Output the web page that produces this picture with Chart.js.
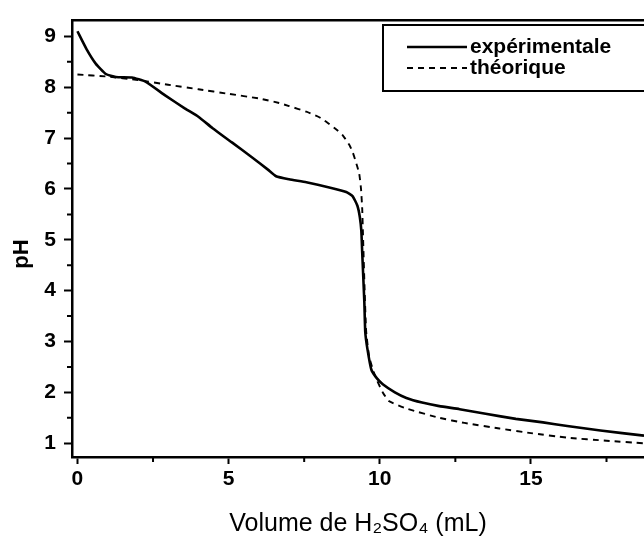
<!DOCTYPE html>
<html>
<head>
<meta charset="utf-8">
<script src="https://cdn.jsdelivr.net/npm/chart.js@4/dist/chart.umd.min.js"></script>
<style>
  html, body { margin: 0; padding: 0; background: #fff; overflow: hidden; }
  #wrap { width: 644px; height: 539px; position: relative; }
</style>
</head>
<body>
<div id="wrap"><canvas id="c" width="644" height="539"></canvas></div>
<script>
// ---- data ----
const seriesLabels = ["expérimentale", "théorique"];

const expVolume = [0, 0.3, 0.61, 0.94, 1.27, 1.8, 2.25, 2.9, 3.56, 4.0, 4.46, 5.12, 5.78, 6.3, 6.57, 7.0, 7.57, 8.33, 8.89, 9.1, 9.26, 9.34, 9.39, 9.42, 9.49, 9.52, 9.59, 9.72, 9.9, 10.1, 10.5, 10.88, 11.4, 11.97, 12.64, 13.5, 14.5, 15.4, 16.2, 17.3, 18.74];
const expPH     = [9.1, 8.75, 8.46, 8.26, 8.2, 8.19, 8.11, 7.84, 7.58, 7.42, 7.2, 6.91, 6.62, 6.38, 6.25, 6.19, 6.13, 6.03, 5.94, 5.86, 5.67, 5.45, 5.18, 4.74, 3.77, 3.19, 2.86, 2.45, 2.28, 2.16, 2.0, 1.89, 1.8, 1.73, 1.67, 1.58, 1.48, 1.41, 1.34, 1.25, 1.15];

const theoVolume = [0, 1, 2, 3, 4, 5, 6, 6.67, 7.0, 7.57, 8.0, 8.23, 8.5, 8.77, 9.0, 9.1, 9.2, 9.32, 9.38, 9.42, 9.45, 9.5, 9.55, 9.65, 9.8, 9.92, 10.1, 10.3, 10.9, 11.97, 12.8, 13.96, 15.0, 16.2, 17.5, 18.74];
const theoPH     = [8.25, 8.21, 8.14, 8.05, 7.96, 7.87, 7.78, 7.69, 7.63, 7.52, 7.41, 7.32, 7.2, 7.06, 6.86, 6.73, 6.55, 6.3, 6.0, 5.6, 5.0, 4.0, 3.2, 2.7, 2.4, 2.22, 2.0, 1.83, 1.68, 1.5, 1.4, 1.29, 1.2, 1.11, 1.05, 1.0];

const xMajorTicks = [0, 5, 10, 15];
const xMinorTicks = [2.5, 7.5, 12.5, 17.5];
const yMajorTicks = [1, 2, 3, 4, 5, 6, 7, 8, 9];
const yMinorTicks = [1.5, 2.5, 3.5, 4.5, 5.5, 6.5, 7.5, 8.5];

const xTitle = "Volume de H\u2082SO\u2084 (mL)";
const yTitle = "pH";

// ---- chart ----
const FONT = "'Liberation Sans', Arial, 'DejaVu Sans', sans-serif";

const toPoints = (xs, ys) => xs.map((x, i) => ({ x: x, y: ys[i] }));

const minorTicksPlugin = {
  id: 'minorTicks',
  afterDraw(chart) {
    const ctx = chart.ctx;
    const xs = chart.scales.x, ys = chart.scales.y;
    const area = chart.chartArea;
    ctx.save();
    ctx.strokeStyle = '#000';
    ctx.lineWidth = 2;
    ctx.beginPath();
    xMinorTicks.forEach(v => {
      const px = xs.getPixelForValue(v);
      ctx.moveTo(px, area.bottom);
      ctx.lineTo(px, area.bottom + 5);
    });
    yMinorTicks.forEach(v => {
      const py = ys.getPixelForValue(v);
      ctx.moveTo(area.left, py);
      ctx.lineTo(area.left - 5, py);
    });
    ctx.stroke();
    ctx.restore();
  }
};

const boxedLegendPlugin = {
  id: 'boxedLegend',
  afterDraw(chart) {
    const ctx = chart.ctx;
    const bx = 383, by = 25, bw = 300, bh = 66;
    ctx.save();
    ctx.fillStyle = '#fff';
    ctx.fillRect(bx, by, bw, bh);
    ctx.strokeStyle = '#000';
    ctx.lineWidth = 2;
    ctx.strokeRect(bx, by, bw, bh);
    const rows = [47, 68];
    chart.data.datasets.forEach((ds, i) => {
      const y = rows[i];
      ctx.beginPath();
      ctx.setLineDash(ds.borderDash || []);
      ctx.lineWidth = ds.borderWidth;
      ctx.strokeStyle = ds.borderColor;
      ctx.moveTo(407, y);
      ctx.lineTo(467, y);
      ctx.stroke();
      ctx.setLineDash([]);
      ctx.fillStyle = '#000';
      ctx.font = 'bold 21px ' + FONT;
      ctx.textBaseline = 'middle';
      ctx.textAlign = 'left';
      ctx.fillText(ds.label, 470, y);
    });
    ctx.restore();
  }
};

new Chart(document.getElementById('c'), {
  type: 'scatter',
  data: {
    datasets: [
      {
        label: seriesLabels[0],
        data: toPoints(expVolume, expPH),
        showLine: true,
        borderColor: '#000',
        backgroundColor: '#000',
        borderWidth: 2.6,
        pointRadius: 0,
        tension: 0.15
      },
      {
        label: seriesLabels[1],
        data: toPoints(theoVolume, theoPH),
        showLine: true,
        borderColor: '#000',
        backgroundColor: '#000',
        borderWidth: 1.9,
        borderDash: [6, 5],
        pointRadius: 0,
        tension: 0.15
      }
    ]
  },
  options: {
    responsive: false,
    animation: false,
    devicePixelRatio: 1,
    layout: { padding: 0 },
    plugins: {
      legend: { display: false },
      tooltip: { enabled: false }
    },
    scales: {
      x: {
        type: 'linear',
        position: 'bottom',
        min: -0.18,
        max: 18.74,
        afterBuildTicks: s => { s.ticks = xMajorTicks.map(v => ({ value: v })); },
        afterFit: s => { s.height = 82; },
        ticks: {
          color: '#000',
          font: { family: FONT, size: 21, weight: 'bold' },
          padding: 3,
          maxRotation: 0,
          autoSkip: false
        },
        grid: { drawOnChartArea: false, drawTicks: true, tickLength: 7, tickWidth: 2, tickColor: '#000' },
        border: { display: true, color: '#000', width: 2.5 },
        title: {
          display: true,
          text: xTitle,
          color: '#000',
          font: { family: FONT, size: 25, weight: 'normal' },
          padding: { top: 0, bottom: 0 }
        }
      },
      xTop: {
        type: 'linear',
        position: 'top',
        min: -0.18,
        max: 18.74,
        afterFit: s => { s.height = 14; },
        ticks: { display: false },
        grid: { drawOnChartArea: false, drawTicks: false },
        border: { display: true, color: '#000', width: 2.5 }
      },
      y: {
        type: 'linear',
        position: 'left',
        min: 0.73,
        max: 9.31,
        afterBuildTicks: s => { s.ticks = yMajorTicks.map(v => ({ value: v })); },
        afterFit: s => { s.width = 72; },
        ticks: {
          color: '#000',
          font: { family: FONT, size: 21, weight: 'bold' },
          padding: 8,
          autoSkip: false
        },
        grid: { drawOnChartArea: false, drawTicks: true, tickLength: 8, tickWidth: 2, tickColor: '#000' },
        border: { display: true, color: '#000', width: 2.5 },
        title: {
          display: true,
          text: yTitle + "     ",
          color: '#000',
          font: { family: FONT, size: 22, weight: 'bold' },
          padding: { top: 9, bottom: 0 }
        }
      }
    }
  },
  plugins: [minorTicksPlugin, boxedLegendPlugin]
});
</script>
</body>
</html>
